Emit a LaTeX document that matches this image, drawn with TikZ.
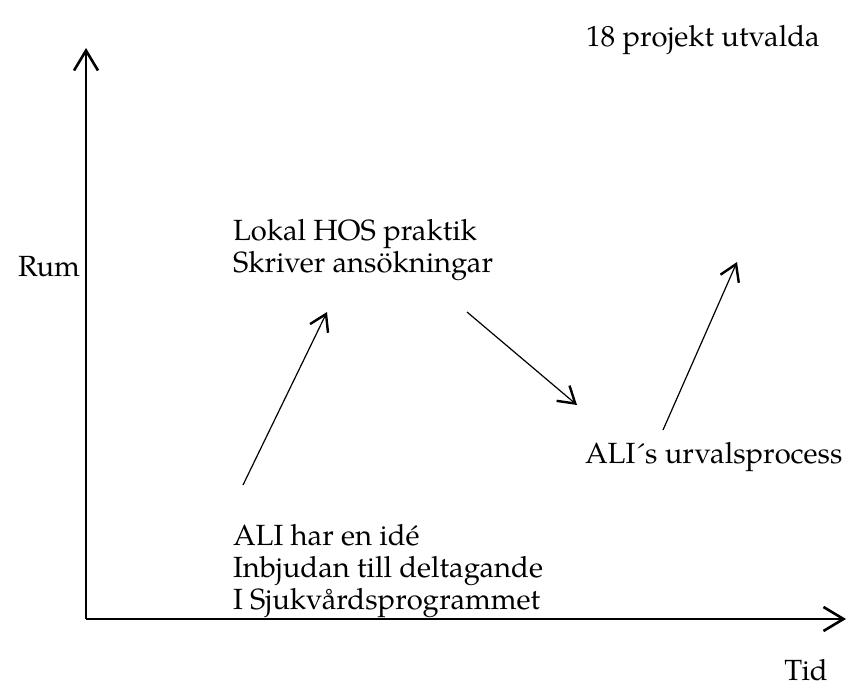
\documentclass[tikz,border=0pt]{standalone}
\usepackage{fontspec}
\setmainfont{TeX Gyre Pagella}
\usetikzlibrary{arrows.meta}
\tikzset{
  lbl/.style={inner sep=0pt, outer sep=0pt, align=left, font=\fontsize{14.6}{16}\selectfont},
  axis/.style={line width=0.6pt, -{Straight Barb[length=10pt,width=12pt,line width=1.3pt]}},
  flow/.style={line width=0.6pt, -{Straight Barb[length=8pt,width=10pt,line width=1.2pt]}},
}
\begin{document}
\begin{tikzpicture}[x=0.5pt,y=-0.5pt]
\useasboundingbox (0,0) rectangle (851,690);
\coordinate (o) at (86,619);
\coordinate (ytop) at (86,48);
\coordinate (xend) at (846,619);
\draw[axis] (o) -- (ytop);
\draw[axis] (o) -- (xend);
\node[lbl, anchor=east] (rum) at (80,267) {Rum};
\node[lbl, anchor=center] (tid) at (806,670) {Tid};
\node[lbl, anchor=west] (proj) at (586,40) {18 projekt utvalda};
\node[lbl, anchor=north west] (lokal) at (233,219) {Lokal HOS praktik\\Skriver ansökningar};
\node[lbl, anchor=west] (urval) at (585,457) {ALI´s urvalsprocess};
\node[lbl, anchor=north west] (ali) at (233,524) {ALI har en idé\\Inbjudan till deltagande\\I Sjukvårdsprogrammet};
\coordinate (a1s) at (243,485);
\coordinate (a1e) at (327,312);
\coordinate (a2s) at (467,312);
\coordinate (a2e) at (577,405);
\coordinate (a3s) at (663,430);
\coordinate (a3e) at (737,262);
\draw[flow] (a1s) -- (a1e);
\draw[flow] (a2s) -- (a2e);
\draw[flow] (a3s) -- (a3e);
\end{tikzpicture}
\end{document}
